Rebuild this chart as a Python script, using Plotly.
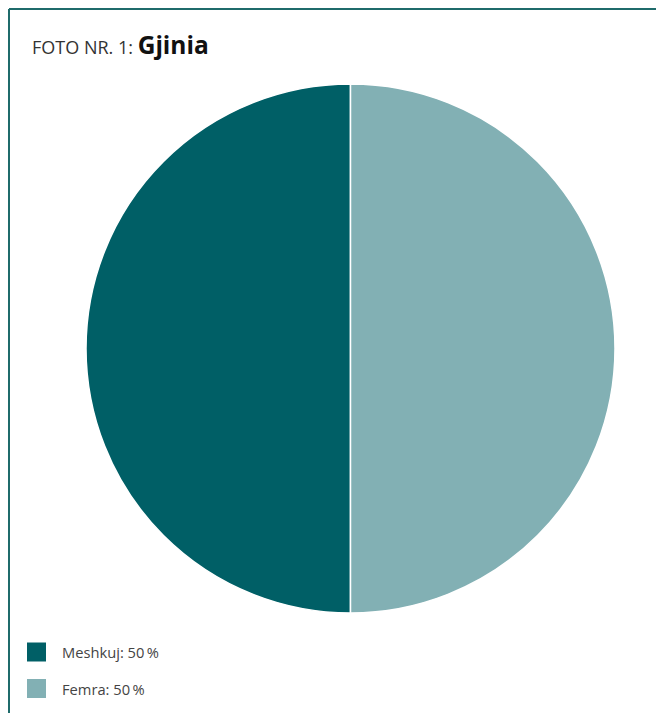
import plotly.graph_objects as go

labels = ["Meshkuj", "Femra"]
values = [50, 50]
colors = ["#005F66", "#82B0B4"]
title_prefix = "FOTO NR. 1: "
title_main = "Gjinia"

W, H = 656, 713

def px(x):
    return x / W

def py(y):
    return 1 - y / H

fig = go.Figure()
fig.add_trace(go.Pie(
    labels=labels,
    values=values,
    marker=dict(colors=colors, line=dict(color="white", width=1.5)),
    sort=False,
    direction="clockwise",
    rotation=180,
    textinfo="none",
    hoverinfo="label+percent",
    showlegend=False,
    domain=dict(x=[px(86), px(615)], y=[py(613), py(84)]),
))

shapes = [
    dict(type="line", xref="paper", yref="paper", x0=px(9), y0=py(9), x1=px(9), y1=-0.05,
         line=dict(color="#1F6B6B", width=2)),
    dict(type="line", xref="paper", yref="paper", x0=px(9), y0=py(9), x1=1.05, y1=py(9),
         line=dict(color="#1F6B6B", width=2)),
]
annotations = [
    dict(xref="paper", yref="paper", x=px(30), y=py(44), xanchor="left", yanchor="middle",
         showarrow=False, align="left",
         text=f"<span style='font-size:18px;color:#333333'>{title_prefix}</span>"
              f"<b><span style='font-size:24.5px;color:#111111'>{title_main}</span></b>",
         font=dict(family="Open Sans", size=18, color="#333333")),
]

total = sum(values)
for i, (lab, val, col) in enumerate(zip(labels, values, colors)):
    yc = 652 + i * 36.5
    shapes.append(dict(type="rect", xref="paper", yref="paper",
                       x0=px(27), x1=px(46), y0=py(yc - 9.5), y1=py(yc + 9.5),
                       fillcolor=col, line=dict(width=0)))
    pct = round(val / total * 100)
    annotations.append(dict(xref="paper", yref="paper", x=px(60), y=py(yc),
                            xanchor="left", yanchor="middle", showarrow=False,
                            text=f"{lab}: {pct}\u2009%",
                            font=dict(family="Open Sans", size=14.7, color="#444444")))

fig.update_layout(
    width=W, height=H,
    margin=dict(l=0, r=0, t=0, b=0),
    paper_bgcolor="white",
    plot_bgcolor="white",
    shapes=shapes,
    annotations=annotations,
)

fig.write_html("out.html",
               config={"displayModeBar": False},
               post_script="document.body.style.margin='0';document.body.style.overflow='hidden';")
